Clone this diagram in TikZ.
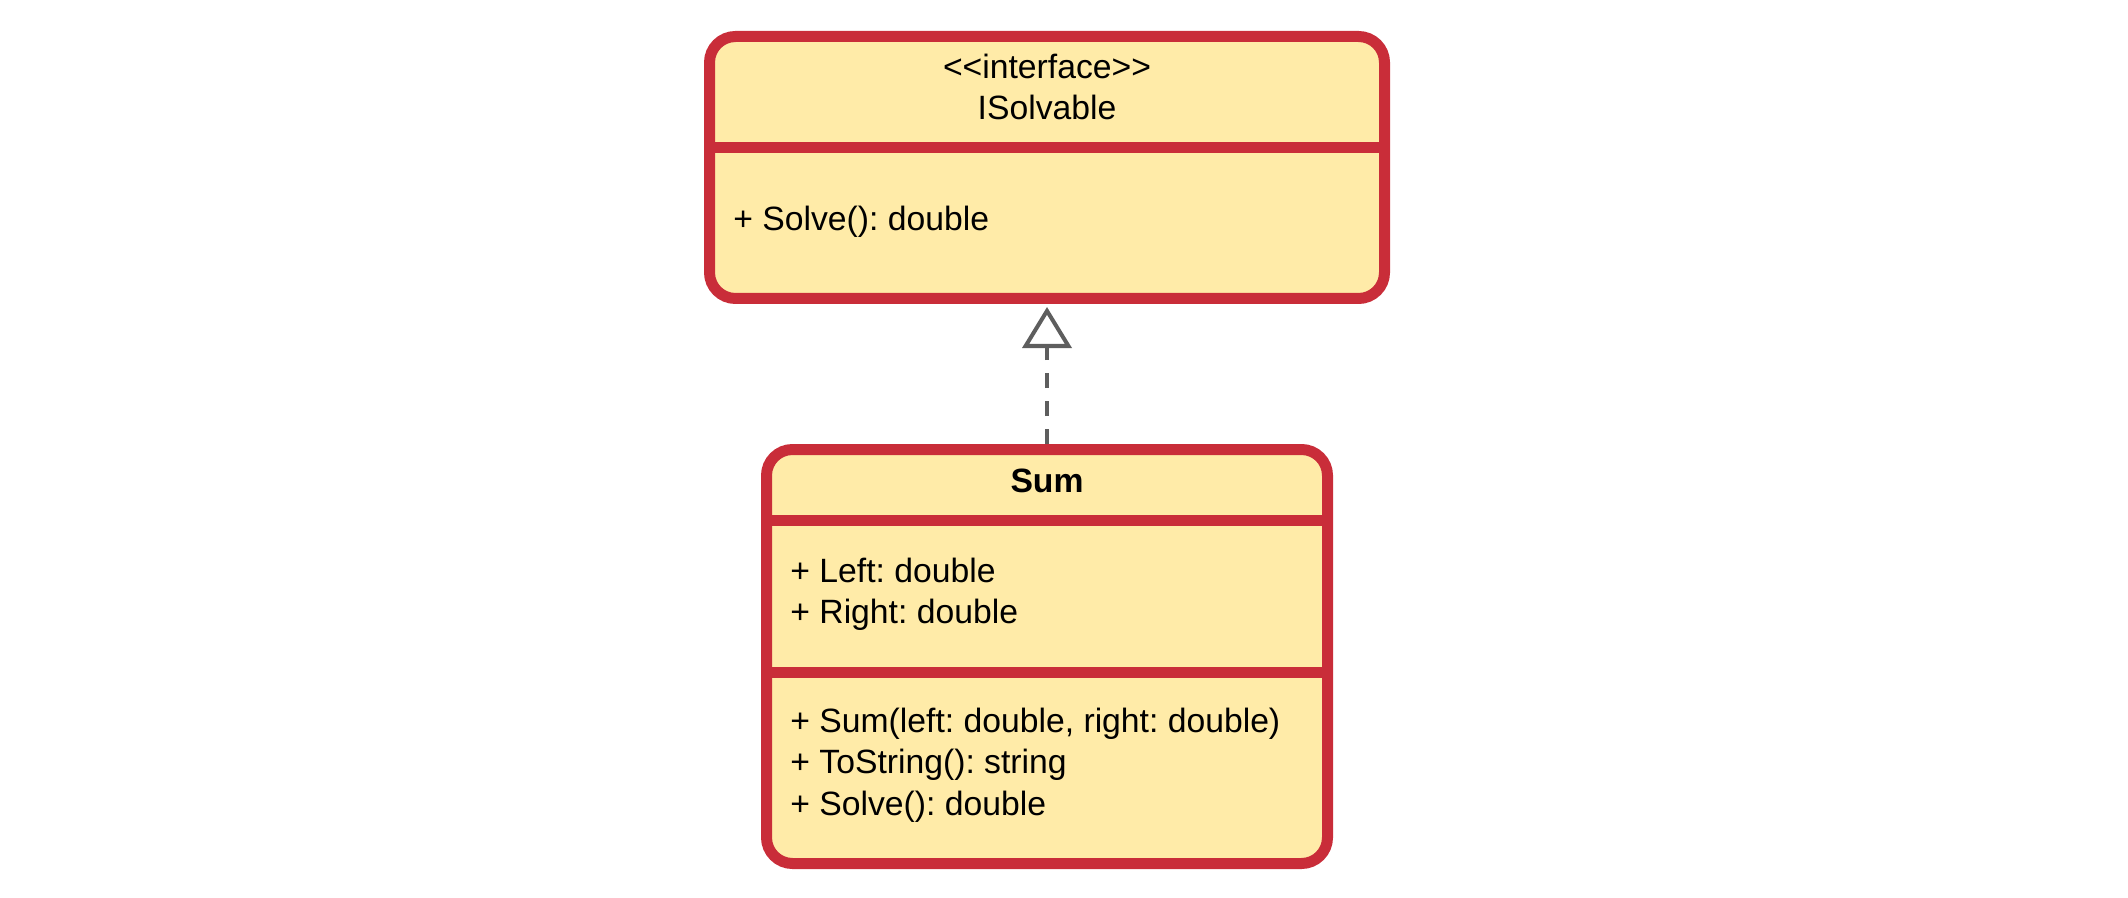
\documentclass[tikz,border=0pt]{standalone}
\usepackage{fontspec}
\setmainfont{Liberation Sans}
\frenchspacing
\usetikzlibrary{arrows.meta,positioning}
\definecolor{umlred}{HTML}{C92D39}
\definecolor{umlfill}{HTML}{FFEBA8}
\definecolor{umlgray}{HTML}{5E5E5E}
\tikzset{
    %Define style for class boxes
    classbox/.style={
           rectangle,
           rounded corners=13pt,
           draw=umlred, line width=5.5pt,
           fill=umlfill,
           inner sep=0pt},
    % Define style for compartment lines
    divider/.style={
           draw=umlred, line width=5.5pt},
    % Define style for texts
    header/.style={
           inner sep=0pt, anchor=base,
           font=\fontsize{16.85pt}{20.25pt}\selectfont},
    member/.style={
           inner sep=0pt, anchor=north west,
           text height=12.2pt, text depth=3.5pt,
           font=\fontsize{16.85pt}{20.25pt}\selectfont},
    % Define arrow style
    realize/.style={
           -{Triangle[open,length=20.5pt,width=24.5pt]},
           draw=umlgray, line width=2pt,
           dash pattern=on 7.5pt off 6.5pt,
           shorten >=1.5pt}
}
\begin{document}
\begin{tikzpicture}[x=0.5pt,y=-0.5pt,node distance=4.55pt]
\useasboundingbox (0,0) rectangle (2128,898);

 %boxes

\node[classbox, minimum width=337.5pt, minimum height=131pt](isolvable) at (1047,167.5){};
\node[classbox, minimum width=280.5pt, minimum height=207pt](sum) at (1047,656.5){};

\coordinate (cut1) at (0,148);
\coordinate (cut2) at (0,520);
\coordinate (cut3) at (0,672.5);
\draw[divider] (isolvable.west |- cut1) -- (isolvable.east |- cut1);
\draw[divider] (sum.west |- cut2) -- (sum.east |- cut2);
\draw[divider] (sum.west |- cut3) -- (sum.east |- cut3);

 %texts

\node[header](stereo) at (1047,79){{<}{<}interface{>}{>}};
\node[header](ifname) at (1047,120){ISolvable};
\node[member](ifsolve) at (733,205.6){+ Solve(): double};

\node[header](sumname) at (1047,492){\textbf{Sum}};
\node[member](left) at (790,557.6){+ Left: double};
\node[member, below=of left.south west, anchor=north west](right){+ Right: double};
\node[member](ctor) at (790,707.6){+ Sum(left: double, right: double)};
\node[member, below=of ctor.south west, anchor=north west](tostr){+ ToString(): string};
\node[member, below=of tostr.south west, anchor=north west](solve){+ Solve(): double};

 %realization

\draw[realize] (sum.north) -- (isolvable.south);

\end{tikzpicture}
\end{document}
